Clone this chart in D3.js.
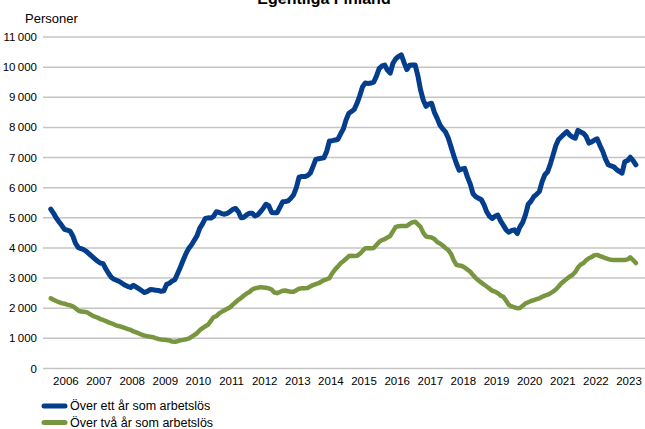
<!DOCTYPE html>
<html>
<head>
<meta charset="utf-8">
<script src="https://cdn.jsdelivr.net/npm/d3@7"></script>
<style>
  body { margin: 0; background: #fff; }
  svg { display: block; font-family: "Liberation Sans", Arial, sans-serif; }
</style>
</head>
<body>
<svg width="645" height="429"></svg>
<script>
// monthly figures, Jan 2006 .. Sep 2023
var startYear = 2006;
var years = [2006, 2007, 2008, 2009, 2010, 2011, 2012, 2013, 2014, 2015, 2016, 2017, 2018, 2019, 2020, 2021, 2022, 2023];
var yTicks = [0, 1000, 2000, 3000, 4000, 5000, 6000, 7000, 8000, 9000, 10000, 11000];
var seriesNames = ["Över ett år som arbetslös", "Över två år som arbetslös"];

var overEttAr = [
  5290, 5150, 5000, 4870, 4750, 4620, 4590, 4560, 4400, 4150, 4010, 3980,
  3940, 3880, 3800, 3720, 3640, 3560, 3500, 3480, 3300, 3150, 3020, 2960,
  2920, 2880, 2820, 2760, 2720, 2690, 2760, 2700, 2640, 2580, 2520, 2560,
  2620, 2610, 2600, 2590, 2560, 2580, 2790, 2830, 2900, 2950, 3160, 3370,
  3600, 3820, 3980, 4100, 4250, 4400, 4650, 4800, 4980, 5000, 4990, 5050,
  5200, 5180, 5140, 5120, 5150, 5210, 5280, 5310, 5200, 5000, 5020, 5100,
  5150, 5150, 5060, 5100, 5200, 5320, 5450, 5400, 5180, 5170, 5170, 5350,
  5530, 5540, 5560, 5650, 5760, 6000, 6350, 6370, 6370, 6400, 6480, 6700,
  6940, 6960, 6975, 6990, 7200, 7550, 7560, 7580, 7600, 7780, 7950, 8250,
  8470, 8530, 8600, 8800, 9050, 9350, 9470, 9460, 9470, 9500, 9700, 9950,
  10040, 10070, 9900, 9800, 10130, 10280, 10350, 10410, 10150, 9920, 10060, 10070,
  10070, 9700, 9250, 8900, 8700, 8780, 8800, 8500, 8300, 8080, 7950, 7850,
  7650, 7350, 7080, 6800, 6580, 6620, 6640, 6350, 6120, 5800, 5700, 5650,
  5600, 5420, 5200, 5050, 4980, 5050, 5090, 4900, 4750, 4600, 4520, 4580,
  4600, 4480, 4700, 4850, 5100, 5450, 5550, 5700, 5780, 5870, 6200, 6430,
  6530, 6800, 7080, 7400, 7600, 7690, 7780, 7860, 7750, 7680, 7640, 7900,
  7850, 7800, 7700, 7480, 7520, 7580, 7620, 7400, 7200, 6950, 6760, 6720,
  6690, 6600, 6540, 6480, 6860, 6900, 7010, 6900, 6760
];

var overTvaAr = [
  2330, 2280, 2240, 2200, 2170, 2150, 2120, 2100, 2060, 2000, 1920, 1890,
  1885, 1870, 1820, 1760, 1720, 1690, 1640, 1610, 1570, 1530, 1500, 1460,
  1420, 1400, 1370, 1340, 1310, 1280, 1230, 1200, 1160, 1120, 1090, 1070,
  1055, 1040, 1010, 980, 965, 955, 945, 930, 895, 890, 905, 940,
  950, 970, 990, 1050, 1110, 1170, 1270, 1340, 1400, 1450, 1580, 1700,
  1740, 1830, 1880, 1930, 1980, 2030, 2120, 2200, 2280, 2340, 2420, 2490,
  2540, 2620, 2660, 2680, 2700, 2690, 2680, 2660, 2620, 2520, 2500, 2540,
  2580, 2590, 2560, 2550, 2550, 2600, 2650, 2660, 2660, 2670, 2720, 2770,
  2800, 2830, 2880, 2930, 2960, 3000, 3160, 3280, 3380, 3490, 3560, 3640,
  3730, 3740, 3730, 3740, 3800, 3900, 3990, 3990, 3990, 4000, 4100, 4200,
  4260, 4290, 4350, 4400, 4550, 4700, 4720, 4730, 4730, 4730, 4800, 4850,
  4870, 4780, 4700, 4500, 4380, 4360, 4350, 4300, 4200, 4150, 4080, 4000,
  3930, 3800, 3600, 3440, 3420, 3400, 3350, 3280, 3210, 3100, 3000, 2920,
  2850, 2780, 2720, 2650, 2580, 2550, 2500, 2420, 2380, 2250, 2110, 2060,
  2030, 2000, 2010, 2080, 2160, 2200, 2240, 2270, 2300, 2330, 2380, 2420,
  2450, 2500, 2550, 2620, 2720, 2830, 2900, 2980, 3050, 3100, 3200, 3350,
  3450, 3500, 3590, 3660, 3700, 3760, 3770, 3730, 3700, 3660, 3630, 3610,
  3600, 3600, 3600, 3600, 3600, 3620, 3690, 3600, 3500
];

var colors = ["#033d8b", "#77963f"];
var widths = [5, 4.5];

var svg = d3.select("svg"),
    plotLeft = 43, plotRight = 645;

var x = d3.scaleTime()
    .domain([new Date(2006, 0, 1), new Date(2024, 0, 1)])
    .range([49.5, 645.7]);

var y = d3.scaleLinear()
    .domain([0, 11000])
    .range([368.5, 37]);

var fmt = d3.formatLocale({decimal: ",", thousands: "\u2009", grouping: [3], currency: ["", ""]}).format(",d");

function monthDate(i) { return new Date(startYear, i, 15); }

// title (cut off at the top, as in the original)
svg.append("text")
    .attr("x", 324)
    .attr("y", 4)
    .attr("text-anchor", "middle")
    .attr("font-size", "16px")
    .attr("font-weight", "bold")
    .attr("fill", "#000")
    .text("Egentliga Finland");

svg.append("text")
    .attr("x", 25)
    .attr("y", 23)
    .attr("font-size", "13px")
    .attr("fill", "#000")
    .text("Personer");

// grid
svg.append("g")
  .selectAll("line")
  .data(yTicks)
  .enter().append("line")
    .attr("x1", plotLeft)
    .attr("x2", plotRight)
    .attr("y1", function(d) { return y(d); })
    .attr("y2", function(d) { return y(d); })
    .attr("stroke", "#c4c4c4")
    .attr("stroke-width", 1.5);

svg.append("g")
  .selectAll("text")
  .data(yTicks)
  .enter().append("text")
    .attr("x", 37)
    .attr("y", function(d) { return y(d) + 4; })
    .attr("text-anchor", "end")
    .attr("font-size", "11.5px")
    .attr("fill", "#000")
    .text(function(d) { return fmt(d); });

svg.append("g")
  .selectAll("text")
  .data(years)
  .enter().append("text")
    .attr("x", function(d) { return x(new Date(d, 6, 1)); })
    .attr("y", 385)
    .attr("text-anchor", "middle")
    .attr("font-size", "11.5px")
    .attr("fill", "#000")
    .text(function(d) { return d; });

var line = d3.line()
    .x(function(d, i) { return x(monthDate(i)); })
    .y(function(d) { return y(d); });

[overTvaAr, overEttAr].forEach(function(s, k) {
  svg.append("path")
      .datum(s)
      .attr("d", line)
      .attr("fill", "none")
      .attr("stroke", colors[1 - k])
      .attr("stroke-width", widths[1 - k])
      .attr("stroke-linejoin", "round")
      .attr("stroke-linecap", "round");
});

// legend
var legend = svg.append("g")
  .selectAll("g")
  .data(seriesNames)
  .enter().append("g")
    .attr("transform", function(d, i) { return "translate(0," + (406 + i * 16.5) + ")"; });

legend.append("line")
    .attr("x1", 44).attr("x2", 65)
    .attr("stroke", function(d, i) { return colors[i]; })
    .attr("stroke-width", 5)
    .attr("stroke-linecap", "round");

legend.append("text")
    .attr("x", 70)
    .attr("y", 4)
    .attr("font-size", "12.5px")
    .attr("fill", "#000")
    .text(function(d) { return d; });
</script>
</body>
</html>
